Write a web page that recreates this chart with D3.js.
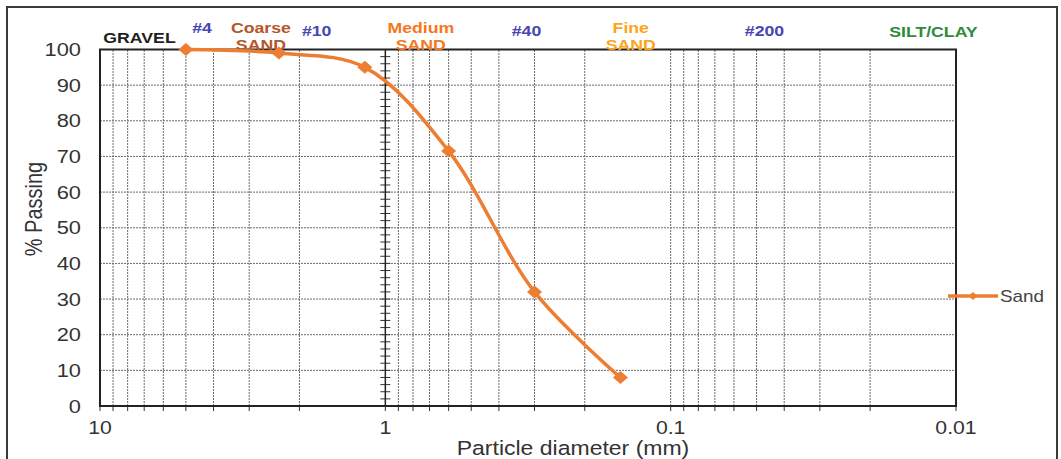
<!DOCTYPE html>
<html>
<head>
<meta charset="utf-8">
<script src="https://cdn.jsdelivr.net/npm/d3@7"></script>
<style>
  html, body { margin: 0; padding: 0; background: #fff; }
  svg { display: block; font-family: "Liberation Sans", Arial, sans-serif; }
</style>
</head>
<body>
<svg id="chart" width="1061" height="459"></svg>
<script>
// ---- data ----
const sieveSize = [5, 2.36, 1.18, 0.6, 0.3, 0.15];           // particle diameter (mm)
const percentPassing = [100, 99, 95, 71.5, 32, 8];            // % passing
const seriesName = "Sand";
const yTickValues = [0, 10, 20, 30, 40, 50, 60, 70, 80, 90, 100];
const xTickLabels = [10, 1, 0.1, 0.01];
const xTickText = ["10", "1", "0.1", "0.01"];
const zoneLabels = [
  { lines: ["GRAVEL"], at: 7.27, color: "#1f1f1f", base: 43 },
  { lines: ["#4"], at: 4.39, color: "#4646b4", base: 33 },
  { lines: ["Coarse", "SAND"], at: 2.73, color: "#b4562a", base: 33 },
  { lines: ["#10"], at: 1.74, color: "#4646b4", base: 36 },
  { lines: ["Medium", "SAND"], at: 0.751, color: "#f47820", base: 33 },
  { lines: ["#40"], at: 0.32, color: "#4646b4", base: 36 },
  { lines: ["Fine", "SAND"], at: 0.138, color: "#ffa31a", base: 33 },
  { lines: ["#200"], at: 0.0469, color: "#4646b4", base: 36 },
  { lines: ["SILT/CLAY"], at: 0.012, color: "#2e8b3c", base: 37 }
];

// ---- layout ----
const SX = 1.18; // horizontal text stretch of the reference
const svg = d3.select("#chart");
const x = d3.scaleLog().domain([10, 0.01]).range([100, 956]);
const y = d3.scaleLinear().domain([0, 100]).range([406, 49.5]);
const orange = "#ED7D31";

// outer border
svg.append("rect").attr("x", 7).attr("y", 7).attr("width", 1050).attr("height", 470)
  .attr("fill", "none").attr("stroke", "#3a3a3a").attr("stroke-width", 2);

const g = svg.append("g");

// vertical dotted grid
const xt = x.ticks().filter(v => v < 9.999 && v > 0.01001 && Math.abs(v - 1) > 1e-9);
g.selectAll(".vgrid").data(xt).join("line")
  .attr("x1", d => x(d)).attr("x2", d => x(d))
  .attr("y1", y(0)).attr("y2", y(100))
  .attr("stroke", "#6a6a6a").attr("stroke-width", 1).attr("stroke-dasharray", "2,1");

// horizontal dotted grid
g.selectAll(".hgrid").data(yTickValues.filter(v => v > 0 && v < 100)).join("line")
  .attr("x1", x(10)).attr("x2", x(0.01))
  .attr("y1", d => y(d)).attr("y2", d => y(d))
  .attr("stroke", "#6a6a6a").attr("stroke-width", 1).attr("stroke-dasharray", "2,1");

// bottom ticks
g.selectAll(".btick").data(x.ticks()).join("line")
  .attr("x1", d => x(d)).attr("x2", d => x(d))
  .attr("y1", y(0)).attr("y2", y(0) + 5)
  .attr("stroke", "#333").attr("stroke-width", 1);

// vertical axis crossing at 1 with cross minor ticks
const minorY = d3.range(0, 101, 2);
g.selectAll(".ctick").data(minorY).join("line")
  .attr("x1", x(1) - 5).attr("x2", x(1) + 5)
  .attr("y1", d => y(d)).attr("y2", d => y(d))
  .attr("stroke", "#333").attr("stroke-width", 1);
g.append("line").attr("x1", x(1)).attr("x2", x(1)).attr("y1", y(0)).attr("y2", y(100))
  .attr("stroke", "#222").attr("stroke-width", 1.5);

// plot frame
g.append("rect").attr("x", x(10)).attr("y", y(100))
  .attr("width", x(0.01) - x(10)).attr("height", y(0) - y(100))
  .attr("fill", "none").attr("stroke", "#222").attr("stroke-width", 2);

// y tick labels
g.selectAll(".ylab").data(yTickValues).join("text")
  .attr("transform", d => `translate(81,${y(d)}) scale(${SX},1)`)
  .attr("dy", "0.36em").attr("text-anchor", "end")
  .attr("font-size", 18.5).attr("fill", "#333").text(d => d);

// x tick labels
g.selectAll(".xlab").data(xTickLabels).join("text")
  .attr("transform", d => `translate(${x(d)},428) scale(${SX},1)`)
  .attr("dy", "0.36em").attr("text-anchor", "middle")
  .attr("font-size", 18).attr("fill", "#333").text((d, i) => xTickText[i]);

// axis titles
svg.append("text")
  .attr("transform", `translate(573,448) scale(${SX},1)`)
  .attr("dy", "0.36em").attr("text-anchor", "middle")
  .attr("font-size", 19.5).attr("fill", "#333").text("Particle diameter (mm)");
svg.append("text")
  .attr("transform", `translate(34,209) rotate(-90) scale(1,${SX})`)
  .attr("dy", "0.36em").attr("text-anchor", "middle")
  .attr("font-size", 20).attr("fill", "#333").text("% Passing");

// zone labels
zoneLabels.forEach(z => {
  z.lines.forEach((t, i) => {
    svg.append("text")
      .attr("transform", `translate(${x(z.at)},${z.base + i * 17}) scale(${SX},1)`)
      .attr("text-anchor", "middle").attr("font-weight", "bold")
      .attr("font-size", 15).attr("fill", z.color).text(t);
  });
});

// data line
const pts = sieveSize.map((s, i) => [x(s), y(percentPassing[i])]);
svg.append("path").attr("d", d3.line().curve(d3.curveCatmullRom.alpha(0.5))(pts))
  .attr("fill", "none").attr("stroke", orange).attr("stroke-width", 3.5)
  .attr("stroke-linecap", "round");

const diamond = (cx, cy, w, h) => `M${cx},${cy - h}L${cx + w},${cy}L${cx},${cy + h}L${cx - w},${cy}Z`;
svg.selectAll(".mk").data(pts).join("path")
  .attr("d", d => diamond(d[0], d[1], 7.5, 6.5)).attr("fill", orange);

// legend
const ly = 296;
svg.append("line").attr("x1", 948).attr("x2", 998).attr("y1", ly).attr("y2", ly)
  .attr("stroke", orange).attr("stroke-width", 3.5);
svg.append("path").attr("d", diamond(973, ly, 4.5, 4)).attr("fill", orange);
svg.append("text").attr("transform", `translate(1000,${ly}) scale(${SX},1)`)
  .attr("dy", "0.36em").attr("font-size", 16).attr("fill", "#444").text(seriesName);
</script>
</body>
</html>
